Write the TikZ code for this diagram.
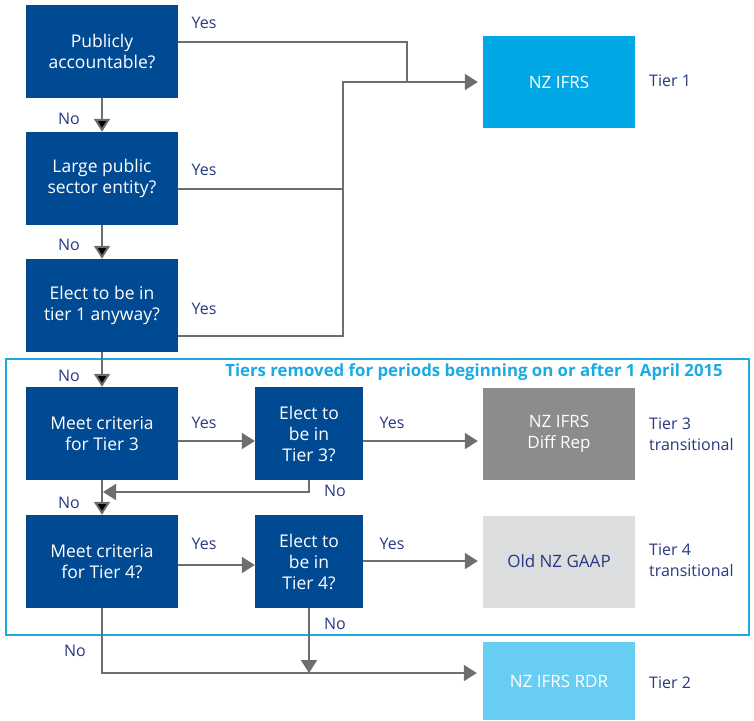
\documentclass[tikz,border=0pt]{standalone}
\usepackage{fontspec}
\setmainfont{Open Sans}
\usetikzlibrary{arrows.meta}
\definecolor{navy}{RGB}{0,74,147}
\definecolor{labelblue}{RGB}{40,56,130}
\definecolor{tierone}{RGB}{0,169,230}
\definecolor{tiertwo}{RGB}{104,205,242}
\definecolor{tierthree}{RGB}{140,140,140}
\definecolor{tierfour}{RGB}{220,221,223}
\definecolor{linegray}{RGB}{109,110,113}
\definecolor{framecyan}{RGB}{27,170,226}

\begin{document}
\begin{tikzpicture}[x=1pt, y=-1pt,
	every node/.style={font=\fontsize{16}{21}\selectfont, inner sep=0pt},
	qbox/.style={rectangle, fill=navy, text=white, align=center, font=\fontsize{17.5}{21}\selectfont, minimum width=152pt, minimum height=93pt},
	ebox/.style={qbox, minimum width=108pt},
	outbox/.style={rectangle, align=center, font=\fontsize{17}{21}\selectfont, minimum width=152pt, minimum height=92pt},
	lbl/.style={text=labelblue},
	tierlbl/.style={text=labelblue, anchor=west, align=left},
	line/.style={draw=linegray, line width=2pt},
	arrow/.style={line, -{Triangle[length=13pt, width=16pt]}}]
				\useasboundingbox (0,0) rectangle (754,720);
				
				\node[qbox] (q1) at (102,51.5){Publicly\\accountable?};
				\node[qbox] (q2) at (102,178.5){Large public\\sector entity?};
				\node[qbox] (q3) at (102,305.5){Elect to be in\\tier 1 anyway?};
				\node[qbox] (q4) at (102,433.5){Meet criteria\\for Tier 3};
				\node[qbox] (q6) at (102,561.5){Meet criteria\\for Tier 4?};
				\node[ebox] (q5) at (309,433.5){Elect to\\be in\\Tier 3?};
				\node[ebox] (q7) at (309,561.5){Elect to\\be in\\Tier 4?};
				
				\node[outbox, fill=tierone, text=white] (ifrs) at (559,82){NZ IFRS};
				\node[outbox, fill=tierthree, text=white] (diffrep) at (559,434){NZ IFRS\\Diff Rep};
				\node[outbox, fill=tierfour, text=labelblue] (gaap) at (559,561.5){Old NZ GAAP};
				\node[outbox, fill=tiertwo, text=white, minimum height=78pt] (rdr) at (559,681){NZ IFRS RDR};
				
				\node[tierlbl] (t1) at (649,81){Tier 1};
				\node[tierlbl] (t3) at (649,434){Tier 3\\transitional};
				\node[tierlbl] (t4) at (649,560){Tier 4\\transitional};
				\node[tierlbl] (t2) at (649,683){Tier 2};
				
				\node[draw=framecyan, line width=2pt, minimum width=743pt, minimum height=276pt] (removed) at (377.5,497){};
				\node[anchor=east, text=framecyan, font=\fontsize{16.8}{20}\selectfont\bfseries] (title) at (723,372){Tiers removed for periods beginning on or after 1 April 2015};
				
				% yes / no labels
				\node[lbl] (y1) at (204,23){Yes};
				\node[lbl] (y2) at (204,170){Yes};
				\node[lbl] (y3) at (204,309){Yes};
				\node[lbl] (y4) at (204,423){Yes};
				\node[lbl] (y5) at (392,423){Yes};
				\node[lbl] (y6) at (204,544){Yes};
				\node[lbl] (y7) at (392,544){Yes};
				\node[lbl] (n1) at (69,119){No};
				\node[lbl] (n2) at (69,245){No};
				\node[lbl] (n3) at (69,376){No};
				\node[lbl] (n4) at (69,503){No};
				\node[lbl] (n5) at (335,491){No};
				\node[lbl] (n6) at (335,624){No};
				\node[lbl] (n7) at (75,651){No};
				
				\coordinate (j1) at (407,42);
				\coordinate (j2) at (407,82);
				\coordinate (k1) at (343,82);
				\coordinate (k2) at (343,189);
				\coordinate (k3) at (343,336);
				\coordinate (m1) at (0,441);
				\coordinate (m2) at (0,565);
				\coordinate (m3) at (0,561);
				\coordinate (back) at (103,492);
				\coordinate (low) at (0,673);
				
				% tier 1 paths
				\path[line] (q1.east |- j1) -- (j1) -- (j2);
				\path[arrow, shorten >=5pt] (q3.east |- k3) -- (k3) -- (k1) -- (ifrs.west);
				\path[line] (q2.east |- k2) -- (k2);
				
				\path[arrow] (q1) edge (q2);
				\path[arrow] (q2) edge (q3);
				\path[arrow] (q3) edge (q4);
				\path[arrow] (q4) edge (q6);
				
				\path[arrow] (q4.east |- m1) -- (q5.west |- m1);
				\path[arrow, shorten >=5pt] (q5.east |- m1) -- (diffrep.west |- m1);
				\path[arrow] (q5.south) -- (q5.south |- back) -- (back);
				
				\path[arrow] (q6.east |- m2) -- (q7.west |- m2);
				\path[arrow, shorten >=5pt] (q7.east |- m3) -- (gaap.west |- m3);
				
				\path[arrow, shorten >=6pt] (q6.south) -- (q6.south |- low) -- (rdr.west |- low);
				\path[arrow] (q7.south) -- (q7.south |- low);
				\end{tikzpicture}
\end{document}
